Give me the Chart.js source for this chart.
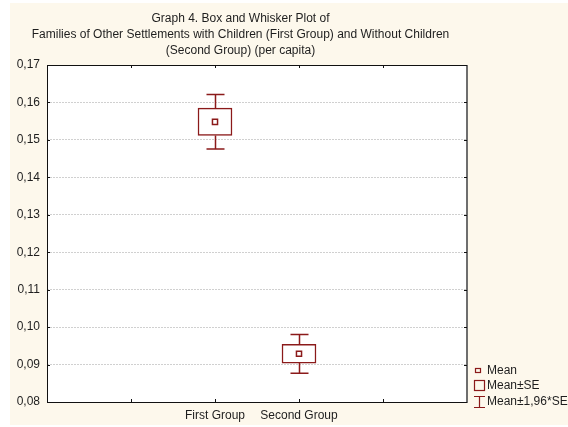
<!DOCTYPE html>
<html>
<head>
<meta charset="utf-8">
<script src="https://cdn.jsdelivr.net/npm/chart.js@4.4.1/dist/chart.umd.min.js"></script>
<style>
  html, body { margin: 0; padding: 0; background: #fff; }
  #wrap { width: 568px; height: 427px; }
</style>
</head>
<body>
<div id="wrap"><canvas id="chart" width="568" height="427"></canvas></div>
<script>
// Data
const categories = ['First Group', 'Second Group'];
const meanValues = [0.1548, 0.0929];
const seLow = [0.1512, 0.0904];
const seHigh = [0.1585, 0.0954];
const ciLow = [0.1476, 0.0877];
const ciHigh = [0.1621, 0.0980];
const yMin = 0.08;
const yMax = 0.17;
const yStep = 0.01;
const legendLabels = ['Mean', 'Mean\u00b1SE', 'Mean\u00b11,96*SE'];
const titleLines = [
    'Graph 4. Box and Whisker Plot of',
    'Families of Other Settlements with Children (First Group) and Without Children',
    '(Second Group) (per capita)'
];

// two empty slots on the left, two on the right (axis has 5 bands)
const xLabels = ['', '', ...categories, '', ''];
const pad = arr => [null, null, ...arr, null, null];

const RED = '#8b1a1a';
const FONT = "'Liberation Sans', Arial, sans-serif";
const TEXT = '#1e1e1e';

// Background, whiskers, frame, inward ticks and legend
const boxPlotExtras = {
    id: 'boxPlotExtras',
    beforeDraw(chart) {
        const { ctx, chartArea: a, width, height } = chart;
        ctx.save();
        ctx.fillStyle = '#ffffff';
        ctx.fillRect(0, 0, width, height);
        ctx.fillStyle = '#fdf8ec';
        ctx.fillRect(10, 3, width - 10, 422);
        ctx.fillStyle = '#ffffff';
        ctx.fillRect(a.left, a.top, a.width, a.height);
        ctx.restore();
    },
    afterDatasetsDraw(chart) {
        const { ctx } = chart;
        const x = chart.scales.x;
        const y = chart.scales.y;
        ctx.save();
        ctx.strokeStyle = RED;
        ctx.lineWidth = 1.5;
        categories.forEach((c, i) => {
            const px = Math.round(x.getPixelForValue(i + 2)) + 0.5;
            const capHalf = 9;
            const segs = [
                [seHigh[i], ciHigh[i]],
                [seLow[i], ciLow[i]]
            ];
            segs.forEach(([from, to]) => {
                const y0 = y.getPixelForValue(from);
                const y1 = y.getPixelForValue(to);
                ctx.beginPath();
                ctx.moveTo(px, y0);
                ctx.lineTo(px, y1);
                ctx.moveTo(px - capHalf, y1);
                ctx.lineTo(px + capHalf, y1);
                ctx.stroke();
            });
        });
        ctx.restore();
    },
    afterDraw(chart) {
        const { ctx, chartArea: a } = chart;
        const x = chart.scales.x;
        const y = chart.scales.y;
        ctx.save();

        // frame
        ctx.strokeStyle = '#111';
        ctx.lineWidth = 1;
        ctx.beginPath();
        ctx.moveTo(a.right, a.top + 0.5);
        ctx.lineTo(a.left + 0.5, a.top + 0.5);
        ctx.lineTo(a.left + 0.5, a.bottom + 0.5);
        ctx.lineTo(a.right, a.bottom + 0.5);
        ctx.stroke();
        ctx.strokeStyle = '#6e6e6e';
        ctx.lineWidth = 2;
        ctx.beginPath();
        ctx.moveTo(a.right, a.top);
        ctx.lineTo(a.right, a.bottom + 1);
        ctx.stroke();

        // inward ticks
        ctx.strokeStyle = '#111';
        ctx.lineWidth = 1;
        ctx.beginPath();
        for (let i = 1; i < xLabels.length - 1; i++) {
            const px = Math.round(x.getPixelForValue(i)) + 0.5;
            ctx.moveTo(px, a.bottom);
            ctx.lineTo(px, a.bottom - 3);
            ctx.moveTo(px, a.top);
            ctx.lineTo(px, a.top + 3);
        }
        y.ticks.forEach(t => {
            const py = Math.round(y.getPixelForValue(t.value)) + 0.5;
            ctx.moveTo(a.left, py);
            ctx.lineTo(a.left + 3, py);
            ctx.moveTo(a.right, py);
            ctx.lineTo(a.right - 3, py);
        });
        ctx.stroke();

        // legend
        ctx.strokeStyle = RED;
        ctx.lineWidth = 1.2;
        ctx.strokeRect(475.5, 368.5, 5, 4);
        ctx.strokeRect(474.5, 380.5, 10, 10);
        ctx.beginPath();
        ctx.moveTo(479.5, 396.5);
        ctx.lineTo(479.5, 407.5);
        ctx.moveTo(474, 396.5);
        ctx.lineTo(485, 396.5);
        ctx.moveTo(474, 407.5);
        ctx.lineTo(485, 407.5);
        ctx.stroke();
        ctx.fillStyle = TEXT;
        ctx.font = '12px ' + FONT;
        ctx.textBaseline = 'middle';
        ctx.textAlign = 'left';
        const ly = [370.5, 385.5, 401.5];
        legendLabels.forEach((t, i) => ctx.fillText(t, 487, ly[i]));

        ctx.restore();
    }
};

const ctx = document.getElementById('chart').getContext('2d');
new Chart(ctx, {
    type: 'bar',
    data: {
        labels: xLabels,
        datasets: [
            {
                type: 'line',
                label: 'Mean',
                data: pad(meanValues),
                showLine: false,
                pointStyle: 'rect',
                pointRadius: 3.6,
                pointBorderWidth: 1.5,
                pointBorderColor: RED,
                pointBackgroundColor: '#ffffff'
            },
            {
                type: 'bar',
                label: 'Mean\u00b1SE',
                data: pad(categories.map((c, i) => [seLow[i], seHigh[i]])),
                backgroundColor: '#ffffff',
                borderColor: RED,
                borderWidth: 1.5,
                borderSkipped: false,
                barThickness: 34
            }
        ]
    },
    options: {
        responsive: false,
        animation: false,
        events: [],
        layout: {
            padding: { left: 14, right: 101, top: 0, bottom: 0 }
        },
        scales: {
            x: {
                offset: false,
                grid: { display: false, drawTicks: false },
                border: { display: false },
                ticks: {
                    autoSkip: false,
                    maxRotation: 0,
                    padding: 6,
                    color: TEXT,
                    font: { family: FONT, size: 12 }
                },
                afterFit: s => { s.height = 25; }
            },
            y: {
                min: yMin,
                max: yMax,
                grid: {
                    drawTicks: false,
                    color: c => (c.tick && (Math.abs(c.tick.value - yMin) < 1e-6 || Math.abs(c.tick.value - yMax) < 1e-6)) ? 'rgba(0,0,0,0)' : '#d0d0d0',
                    lineWidth: 1
                },
                border: { display: false, dash: [2, 1] },
                ticks: {
                    stepSize: yStep,
                    padding: 7,
                    color: TEXT,
                    font: { family: FONT, size: 12 },
                    callback: v => v.toFixed(2).replace('.', ',')
                },
                afterFit: s => { s.width = 33; }
            }
        },
        plugins: {
            legend: { display: false },
            tooltip: { enabled: false },
            title: {
                display: true,
                text: titleLines,
                color: TEXT,
                font: { family: FONT, size: 12, weight: 'normal', lineHeight: 16 / 12 },
                padding: { top: 11, bottom: 6 }
            }
        }
    },
    plugins: [boxPlotExtras]
});
</script>
</body>
</html>
